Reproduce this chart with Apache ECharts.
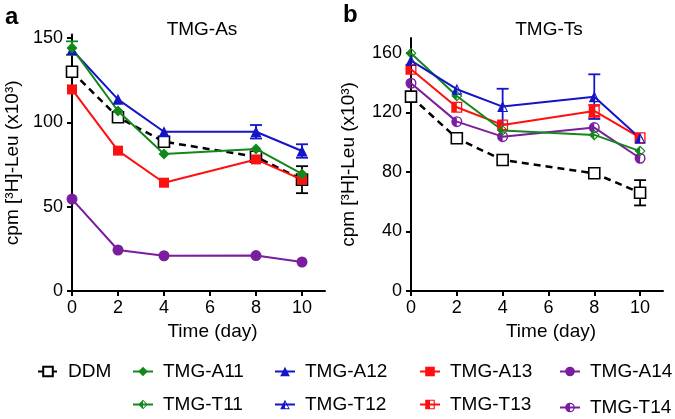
<!DOCTYPE html>
<html>
<head>
<meta charset="utf-8">
<script src="https://cdn.jsdelivr.net/npm/echarts@6/dist/echarts.min.js"></script>
<style>html,body{margin:0;padding:0;background:#fff}#c{width:675px;height:419px}</style>
</head>
<body>
<div id="c"></div>
<script>
// ---- data ----
const days = [0, 2, 4, 8, 10];
const xTicks = [0, 2, 4, 6, 8, 10];
const yTicksA = [0, 50, 100, 150];
const yTicksB = [0, 40, 80, 120, 160];

// Panel a: TMG-As
const ddmA = [130, 103, 88.5, 79.6, 66];
const ddmAErr = [0, 0, 0, 0, 8];
const a11 = [144, 106.7, 81.2, 84.2, 69.4];
const a11Err = [4, 0, 0, 0, 0];
const a12 = [143, 113.6, 94.4, 94.4, 83];
const a12Err = [0, 0, 0, 4, 4];
const a13 = [119.5, 83.2, 64.2, 78, 66];
const a14 = [54.5, 24.3, 20.9, 21, 17.2];

// Panel b: TMG-Ts
const ddmB = [130.6, 102.6, 88, 79.1, 66];
const ddmBErr = [0, 0, 0, 0, 8.5];
const t11 = [159.8, 131, 107.8, 104.9, 94];
const t12 = [154.8, 135.6, 123.9, 130.6, 102.6];
const t12Err = [0, 0, 12, 15, 0];
const t13 = [149, 123.5, 111.6, 121, 103];
const t13Err = [0, 0, 0, 4, 0];
const t14 = [139.6, 113.8, 103.7, 109.8, 89.2];

// ---- styling ----
const FONT = "'Liberation Sans', Arial, sans-serif";
const GREEN = '#13881a', BLUE = '#1414c8', RED = '#ff1010', PURPLE = '#7a1d9e';

const half = {
  diamond: 'path://M50,0 L100,50 L50,100 L0,50 Z M50,14 L14,50 L50,86 L86,50 Z M50,0 L50,100 L0,50 Z',
  triangle: 'path://M50,0 L100,100 L0,100 Z M50,24 L15,90 L85,90 Z M50,0 L50,100 L0,100 Z',
  rect: 'path://M0,0 L100,0 L100,100 L0,100 Z M12,12 L12,88 L88,88 L88,12 Z M0,0 L50,0 L50,100 L0,100 Z',
  circle: 'path://M50,0 A50,50 0 1 1 50,100 A50,50 0 1 1 50,0 Z M50,13 A37,37 0 1 0 50,87 A37,37 0 1 0 50,13 Z M50,0 L50,100 A50,50 0 0 1 50,0 Z'
};

function pairs(vals) { return days.map((d, i) => [d, vals[i]]); }
function errData(vals, errs) {
  const out = [];
  days.forEach((d, i) => { if (errs[i] > 0) out.push([d, vals[i], errs[i]]); });
  return out;
}

function lineSeries(name, vals, color, symbol, size, idx, extra) {
  return Object.assign({
    type: 'line', name: name, data: pairs(vals),
    xAxisIndex: idx, yAxisIndex: idx,
    symbol: symbol, symbolSize: size, symbolKeepAspect: true,
    lineStyle: { color: color, width: 2 },
    itemStyle: { color: color },
    emphasis: { disabled: true },
    animation: false, z: 3
  }, extra || {});
}

function errSeries(vals, errs, color, idx) {
  return {
    type: 'custom', xAxisIndex: idx, yAxisIndex: idx,
    data: errData(vals, errs), animation: false, silent: true, z: 2,
    renderItem: function (params, api) {
      const x = api.value(0), y = api.value(1), e = api.value(2);
      const top = api.coord([x, y + e]);
      const bot = api.coord([x, y - e]);
      const hw = 6;
      const st = { stroke: color, lineWidth: 1.8 };
      return {
        type: 'group', children: [
          { type: 'line', shape: { x1: top[0], y1: top[1], x2: bot[0], y2: bot[1] }, style: st },
          { type: 'line', shape: { x1: top[0] - hw, y1: top[1], x2: top[0] + hw, y2: top[1] }, style: st },
          { type: 'line', shape: { x1: bot[0] - hw, y1: bot[1], x2: bot[0] + hw, y2: bot[1] }, style: st }
        ]
      };
    }
  };
}

const axisCommon = {
  axisLine: { show: true, lineStyle: { color: '#000', width: 2 } },
  axisTick: { show: true, length: 5, lineStyle: { color: '#000', width: 2 } },
  axisLabel: { color: '#000', fontSize: 18, fontFamily: FONT },
  splitLine: { show: false },
  nameTextStyle: { color: '#000', fontSize: 19, fontFamily: FONT }
};

function xAxis(idx) {
  return Object.assign({}, axisCommon, {
    type: 'value', gridIndex: idx, min: 0, max: 11, interval: 2,
    axisTick: Object.assign({}, axisCommon.axisTick, { customValues: xTicks }),
    axisLabel: Object.assign({}, axisCommon.axisLabel, { customValues: xTicks, margin: 8 }),
    name: 'Time (day)', nameLocation: 'middle', nameGap: 30,
    nameTextStyle: Object.assign({}, axisCommon.nameTextStyle, { padding: [0, 0, 0, 28] })
  });
}
function yAxis(idx, max, interval, ticks, gap) {
  return Object.assign({}, axisCommon, {
    type: 'value', gridIndex: idx, min: 0, max: max, interval: interval,
    axisTick: Object.assign({}, axisCommon.axisTick, { customValues: ticks }),
    axisLabel: Object.assign({}, axisCommon.axisLabel, { customValues: ticks, margin: 9 }),
    name: 'cpm [³H]-Leu (x10³)', nameLocation: 'middle', nameGap: gap
  });
}

const ddmStyle = { color: '#fff', borderColor: '#000', borderWidth: 1.6 };

function legendItem(name, left, top) {
  return {
    data: [name], left: left, top: top, padding: 0, orient: 'horizontal',
    itemWidth: 20, itemHeight: 12, selectedMode: false,
    textStyle: { fontSize: 19, fontFamily: FONT, color: '#000', padding: [0, 0, 0, 5] }
  };
}

const option = {
  backgroundColor: '#fff',
  textStyle: { fontFamily: FONT },
  grid: [
    { left: 72, top: 34.6, width: 253, height: 256.4 },
    { left: 411, top: 38, width: 252, height: 253 }
  ],
  xAxis: [xAxis(0), xAxis(1)],
  yAxis: [yAxis(0, 152, 50, yTicksA, 50), yAxis(1, 170, 40, yTicksB, 53)],
  graphic: [
    { type: 'text', left: 5, top: 5, style: { text: 'a', font: 'bold 24px ' + FONT, fill: '#000' } },
    { type: 'text', left: 343, top: 3, style: { text: 'b', font: 'bold 24px ' + FONT, fill: '#000' } },
    { type: 'text', x: 202, y: 30, style: { text: 'TMG-As', font: '19px ' + FONT, fill: '#000', textAlign: 'center', textVerticalAlign: 'middle' } },
    { type: 'text', x: 549, y: 30, style: { text: 'TMG-Ts', font: '19px ' + FONT, fill: '#000', textAlign: 'center', textVerticalAlign: 'middle' } }
  ],
  legend: [
    legendItem('DDM', 37, 362),
    legendItem('TMG-A11', 132, 362),
    legendItem('TMG-A12', 274, 362),
    legendItem('TMG-A13', 419, 362),
    legendItem('TMG-A14', 559, 362),
    legendItem('TMG-T11', 132, 395),
    legendItem('TMG-T12', 274, 395),
    legendItem('TMG-T13', 419, 395),
    legendItem('TMG-T14', 559, 398)
  ],
  series: [
    // panel a
    errSeries(ddmA, ddmAErr, '#000', 0),
    errSeries(a11, a11Err, GREEN, 0),
    errSeries(a12, a12Err, BLUE, 0),
    lineSeries('DDM', ddmA, '#000', 'rect', 11, 0, {
      lineStyle: { color: '#000', width: 2.5, type: [7, 5] }, itemStyle: ddmStyle, z: 2
    }),
    lineSeries('TMG-A14', a14, PURPLE, 'circle', 11, 0),
    lineSeries('TMG-A13', a13, RED, 'rect', 10, 0),
    lineSeries('TMG-A12', a12, BLUE, 'triangle', 11, 0),
    lineSeries('TMG-A11', a11, GREEN, 'diamond', 11, 0),
    // panel b
    errSeries(ddmB, ddmBErr, '#000', 1),
    errSeries(t12, t12Err, BLUE, 1),
    errSeries(t13, t13Err, RED, 1),
    lineSeries('DDM', ddmB, '#000', 'rect', 11, 1, {
      lineStyle: { color: '#000', width: 2.5, type: [7, 5] }, itemStyle: ddmStyle, z: 2
    }),
    lineSeries('TMG-T14', t14, PURPLE, half.circle, 11, 1),
    lineSeries('TMG-T13', t13, RED, half.rect, 11, 1),
    lineSeries('TMG-T11', t11, GREEN, half.diamond, 11, 1),
    lineSeries('TMG-T12', t12, BLUE, half.triangle, 11, 1)
  ]
};

const chart = echarts.init(document.getElementById('c'), null, { renderer: 'canvas' });
chart.setOption(option);
</script>
</body>
</html>
